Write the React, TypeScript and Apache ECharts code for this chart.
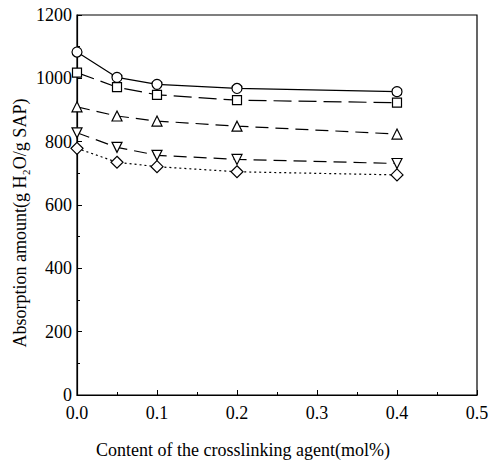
import React, { useEffect, useRef } from "react";
import * as echarts from "echarts";

const xValues = [0, 0.05, 0.1, 0.2, 0.4];
const circleSeries = [1083, 1003, 981, 968, 958];
const squareSeries = [1018, 972, 948, 931, 923];
const triangleSeries = [910, 881, 865, 849, 824];
const triangleDownSeries = [828, 782, 757, 744, 731];
const diamondSeries = [779, 735, 721, 705, 695];

const xTitle = "Content of the crosslinking agent(mol%)";
const yTitle = "Absorption amount(g H₂O/g SAP)";

const FONT = "'Liberation Serif', 'DejaVu Serif', serif";

export default function App() {
  const ref = useRef<HTMLDivElement>(null);
  useEffect(() => {
    if (!ref.current) return;
    const chart = echarts.init(ref.current, null, { renderer: "svg" });
    const pts = (ys: number[]) => xValues.map((x, i) => [x, ys[i]]);
    const mk = (
      name: string,
      ys: number[],
      symbol: string,
      type: any,
      rotate = 0,
      size = 10
    ) => ({
      name,
      type: "line",
      data: pts(ys),
      symbol,
      symbolSize: size,
      symbolRotate: rotate,
      showAllSymbol: true,
      lineStyle: { color: "#000", width: 1.2, type },
      itemStyle: { color: "#fff", borderColor: "#000", borderWidth: 1.2 },
      z: 3,
    });
    chart.setOption({
      animation: false,
      backgroundColor: "#fff",
      grid: {
        left: 77,
        right: 13,
        top: 15,
        bottom: 73,
        show: true,
        borderColor: "#000",
        borderWidth: 1.2,
        backgroundColor: "transparent",
        containLabel: false,
        outerBoundsMode: "none",
      },
      xAxis: {
        type: "value",
        min: 0,
        max: 0.5,
        interval: 0.1,
        axisLine: { show: true, lineStyle: { color: "#000", width: 1.2 } },
        axisTick: { show: true, inside: true, length: 5, lineStyle: { color: "#000" } },
        minorTick: { show: true, splitNumber: 2, length: 3, lineStyle: { color: "#000" } },
        splitLine: { show: false },
        axisLabel: {
          color: "#000",
          fontFamily: FONT,
          fontSize: 18,
          margin: 9,
          formatter: (v: number) => v.toFixed(1),
        },
      },
      yAxis: {
        type: "value",
        min: 0,
        max: 1200,
        interval: 200,
        axisLine: { show: true, lineStyle: { color: "#000", width: 1.2 } },
        axisTick: { show: true, inside: true, length: 5, lineStyle: { color: "#000" } },
        minorTick: { show: true, splitNumber: 2, length: 3, lineStyle: { color: "#000" } },
        splitLine: { show: false },
        axisLabel: {
          color: "#000",
          fontFamily: FONT,
          fontSize: 18,
          margin: 5,
          formatter: (v: number) => String(v),
        },
      },
      graphic: [
        {
          type: "text",
          x: 243,
          y: 450,
          style: {
            text: xTitle,
            fill: "#000",
            font: `18px ${FONT}`,
            align: "center",
            verticalAlign: "middle",
          },
        },
        {
          type: "text",
          x: 20,
          y: 223,
          rotation: Math.PI / 2,
          style: {
            text: yTitle,
            fill: "#000",
            font: `18px ${FONT}`,
            align: "center",
            verticalAlign: "middle",
          },
        },
      ],
      series: [
        mk("circle", circleSeries, "circle", "solid"),
        mk("square", squareSeries, "rect", [18, 7], 0, 9),
        mk("triangle", triangleSeries, "triangle", [13, 7], 0, 10),
        mk("triangleDown", triangleDownSeries, "triangle", [13, 7], 180, 10),
        mk("diamond", diamondSeries, "diamond", [2, 3], 0, 12),
      ],
    });
    return () => chart.dispose();
  }, []);
  return (
    <div
      ref={ref}
      style={{ position: "absolute", left: 0, top: 0, width: 490, height: 468 }}
    />
  );
}
